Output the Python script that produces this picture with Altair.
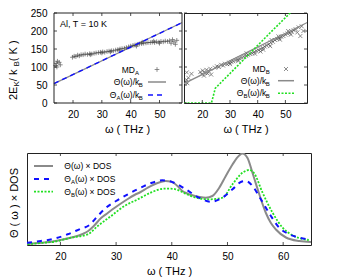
import altair as alt
import pandas as pd

FONT = "Liberation Sans"

# ---------------- data ----------------
# Theta(w)/kB straight line (top panels)
THETA_W = [13.4, 58.0]
THETA_K = [54, 224]

# MD_A points (top-left, '+')
MDA_W = [14.0, 14.2, 14.6, 15.2, 15.6, 14.4,
         19.8, 20.4, 21.0, 21.6, 22.2, 22.8,
         23.5, 24.2, 25.0, 25.8, 26.5, 27.3, 28.0,
         28.8, 29.5, 30.3, 31.0, 31.8, 32.5, 33.3, 34.0, 34.8,
         35.5, 36.3, 37.0, 37.8, 38.5, 39.3,
         40.0, 40.8, 41.5, 42.3, 43.0, 43.8, 44.5, 45.3, 46.0,
         46.8, 47.5, 48.3, 49.0, 49.8, 50.5, 51.3, 52.0, 52.8, 53.5,
         54.0, 54.5, 55.0, 55.5, 56.0,
         30.0, 36.0, 42.0, 48.0, 44.0, 50.0, 26.0, 33.0]
MDA_K = [104, 110, 116, 113, 106, 100,
         127, 130, 129, 133, 131, 134,
         134, 136, 135, 137, 136, 138, 139,
         140, 141, 142, 141, 143, 144, 145, 145, 147,
         148, 150, 151, 152, 154, 156,
         158, 160, 161, 163, 164, 165, 166, 167, 168,
         168, 169, 168, 170, 169, 171, 170, 172, 171, 173,
         166, 176, 170, 163, 174,
         139, 147, 158, 172, 169, 166, 134, 142]

# MD_B points (top-right, 'x')
MDB_W = [14.0, 14.3, 14.6, 14.4, 16.1, 15.0,
         19.3, 19.8, 20.2, 20.6, 21.0, 21.5, 21.9, 22.4, 22.9, 23.2,
         24.6, 25.3, 26.0, 26.8, 27.5, 28.2, 29.0, 29.8, 30.5,
         31.2, 32.0, 32.8, 33.5, 34.3, 35.0, 35.8, 36.5, 37.3,
         38.0, 38.8, 39.5, 40.3, 41.0, 41.8, 42.5,
         43.2, 44.0, 44.7, 45.5, 46.2, 47.0,
         47.8, 48.5, 49.3, 50.0, 50.8, 51.5, 52.3, 53.0,
         53.7, 54.3, 54.8, 55.4, 55.9, 56.5,
         30.0, 33.0, 36.0, 39.0, 42.0, 45.0, 48.0, 51.0, 52.0, 47.5, 44.5, 41.0]
MDB_K = [58, 64, 55, 85, 81, 70,
         86, 80, 90, 76, 84, 92, 82, 88, 95, 79,
         98, 102, 100, 106, 104, 109, 108, 112, 114,
         116, 119, 121, 124, 126, 129, 131, 134, 136,
         138, 142, 145, 147, 150, 153, 157,
         160, 163, 168, 170, 175, 178,
         180, 184, 186, 190, 193, 195, 198, 202,
         205, 196, 210, 186, 213, 200,
         108, 117, 138, 137, 148, 175, 176, 200, 190, 185, 158, 143]

# Theta_B(w)/kB (top-right, green)
THB_W = [13.4, 23.3, 24.7, 30.0, 35.0, 40.0, 45.0, 50.0, 52.5, 55.0]
THB_K = [0, 0, 41, 82, 121, 160, 199, 237, 256, 276]

# bottom panel: Theta x DOS (arbitrary units)
G_W = [14.0, 16.0, 18.0, 20.0, 22.0, 24.0, 25.0, 26.0, 27.3, 28.5, 29.7, 31.0, 32.1, 33.3,
       34.4, 35.6, 36.8, 38.0, 38.9, 39.8, 40.5, 41.2, 41.9, 42.8, 43.7, 45.0, 46.1, 47.3,
       48.5, 49.7, 50.9, 52.1, 52.7, 53.6, 54.5, 55.7, 56.9, 57.8, 58.7, 60.5, 62.9, 65.0]
G_V = [1, 2, 3, 5, 7.5, 11, 14, 19, 27, 32, 37, 42, 46, 50,
       53, 57, 60.5, 63, 64, 63.5, 61.5, 58, 54, 51.5, 49.7, 48, 47.3, 49,
       57, 69, 80.5, 89.5, 91.5, 87, 72, 51, 32, 22, 15.5, 7.5, 4, 3]
A_W = [14.0, 16.5, 18.9, 21.3, 23.4, 25.2, 26.7, 28.2, 30.0, 32.1, 34.2, 36.2, 38.3,
       40.4, 42.5, 44.9, 47.0, 49.1, 50.9, 52.4, 53.3, 54.5, 56.0, 57.8, 59.3, 61.1, 62.9, 64.6]
A_V = [2.3, 4, 6.3, 10.7, 15.7, 20, 29, 37.3, 44, 50.7, 56.7, 61.7, 64.7,
       62.3, 55.7, 47.3, 43.3, 47.3, 55.7, 63, 64, 59, 45.7, 29, 17.3, 10.7, 7.3, 5.7]
B_W = [14.1, 16.5, 18.9, 21.9, 24.9, 26.7, 29.1, 31.5, 33.9, 36.2, 38.6, 39.8,
       40.7, 42.5, 44.3, 46.7, 49.1, 50.9, 52.7, 53.9, 54.8, 56.3, 58.1, 59.9, 61.7, 64.6]
B_V = [0.7, 2, 3.3, 7.3, 10.7, 19, 29, 39, 45.7, 52.3, 56.3, 56.3,
       55.7, 51.3, 47.3, 45.7, 47.3, 60.7, 72.3, 75, 71.7, 52.3, 32.3, 17.3, 9.7, 5]

TOP_TICKS_X = [20, 30, 40, 50]
TOP_TICKS_Y = [0, 50, 100, 150, 200, 250]
BOT_TICKS_X = [20, 30, 40, 50, 60]

# ---------------- helpers ----------------
GRAY = "#8a8a8a"
BLUE = "#1010ff"
GREEN = "#22e022"
PTC = "#333333"
FRAME = "#222222"

WID = {"Θ": .778, "(": .333, ")": .333, "ω": .708, "/": .278, "k": .5, " ": .278,
       "×": .584, "D": .722, "O": .778, "S": .667, "M": .833, "A": .667, "B": .667,
       "E": .667, "K": .667, "2": .556}


def tw(s, size):
    return sum(WID.get(c, .6) for c in s) * size


ONE = pd.DataFrame({"a": [1]})


def txt(text, x, y, size, align="left", angle=0):
    kw = dict(text=text, fontSize=size, align=align, baseline="middle", font=FONT, color="black")
    if angle:
        kw["angle"] = angle
    return alt.Chart(ONE).mark_text(**kw).encode(x=alt.value(x), y=alt.value(y))


def rich(pieces, x, y, size=8.5, sub=6.0):
    out = []
    for t, s in pieces:
        fs = sub if s else size
        out.append(txt(t, x, y + (3 if s else 0), fs))
        x += tw(t, fs)
    return out


def rich_right(pieces, xend, y, size=8.5, sub=6.0):
    total = sum(tw(t, sub if s else size) for t, s in pieces)
    return rich(pieces, xend - total, y, size, sub)


def rule(x1, x2, y, color, width, dash=None):
    kw = dict(color=color, strokeWidth=width)
    if dash:
        kw["strokeDash"] = dash
    return alt.Chart(ONE).mark_rule(**kw).encode(x=alt.value(x1), x2=alt.value(x2), y=alt.value(y))


def sym(shape, x, y, size):
    return alt.Chart(ONE).mark_point(shape=shape, size=size, color=PTC, strokeWidth=0.8, filled=False).encode(
        x=alt.value(x), y=alt.value(y))


def inner_ticks(X, Y, xvals, yvals, x0, x1, h, L=3):
    """gnuplot-style ticks drawn inside the frame, placed through the chart's scales"""
    out = []
    xdf = pd.DataFrame({X.shorthand.split(":")[0]: xvals})
    for y1, y2 in [(h, h - L), (0, L)]:
        out.append(alt.Chart(xdf).mark_rule(color=FRAME, strokeWidth=0.8).encode(
            x=X, y=alt.value(y1), y2=alt.value(y2)))
    if yvals:
        ydf = pd.DataFrame({Y.shorthand.split(":")[0]: yvals})
        for xa, xb in [(x0, x0 + L), (x1, x1 - L)]:
            out.append(alt.Chart(ydf).mark_rule(color=FRAME, strokeWidth=0.8).encode(
                y=Y, x=alt.value(xa), x2=alt.value(xb)))
    return out


PLUS = "M-1,0L1,0M0,-1L0,1"
CROSS = "M-1,-1L1,1M-1,1L1,-1"

TOPDOM = [13.4, 57.8]


def lab_axis(**extra):
    d = dict(ticks=False, domain=False, grid=False, labelFontSize=10, labelFont=FONT,
             labelColor="black", titleFontSize=11, titleFont=FONT, titleFontWeight="normal",
             titleColor="black")
    d.update(extra)
    return alt.Axis(**d)


# top-left view is widened to the left so that it lines up with the bottom panel;
# its data frame occupies x in [OFF, TLW]
OFF = 27
TLW, TLH = 155, 90

X_TL = alt.X("w:Q", scale=alt.Scale(domain=TOPDOM, nice=False, zero=False, range=[OFF, TLW]),
             axis=lab_axis(values=TOP_TICKS_X, title="ω ( THz )", titlePadding=4, labelPadding=6, titleX=100))
Y_TL = alt.Y("k:Q", scale=alt.Scale(domain=[0, 250], nice=False),
             axis=lab_axis(values=TOP_TICKS_Y, title=None, labelPadding=7, offset=-OFF))
X_TR = alt.X("w:Q", scale=alt.Scale(domain=TOPDOM, nice=False, zero=False),
             axis=lab_axis(values=TOP_TICKS_X, title="ω ( THz )", titlePadding=4, labelPadding=6))
Y_TR = alt.Y("k:Q", scale=alt.Scale(domain=[0, 250], nice=False), axis=None)

line_df = pd.DataFrame({"w": THETA_W, "k": THETA_K})
mda_df = pd.DataFrame({"w": MDA_W, "k": MDA_K})
mdb_df = pd.DataFrame({"w": MDB_W, "k": MDB_K})
thb_df = pd.DataFrame({"w": THB_W, "k": THB_K})

# ---------------- top-left ----------------
tl_line = alt.Chart(line_df).mark_line(color=GRAY, strokeWidth=1.3, clip=True).encode(x=X_TL, y=Y_TL)
tl_blue = alt.Chart(line_df).mark_line(color=BLUE, strokeWidth=1.4, strokeDash=[5, 4], clip=True).encode(x=X_TL, y=Y_TL)
tl_pts = alt.Chart(mda_df).mark_point(shape=PLUS, size=22, color=PTC, strokeWidth=0.8, filled=False,
                                      clip=True).encode(x=X_TL, y=Y_TL)
tl_frame = alt.Chart(ONE).mark_rect(fillOpacity=0, stroke=FRAME, strokeWidth=1).encode(
    x=alt.value(OFF), x2=alt.value(TLW), y=alt.value(0), y2=alt.value(TLH))

tl_layers = [tl_line, tl_pts, tl_blue, tl_frame]
tl_layers += inner_ticks(X_TL, Y_TL, TOP_TICKS_X, TOP_TICKS_Y, OFF, TLW, TLH)
tl_layers.append(txt("Al, T = 10 K", OFF + 6, 11, 9))
tl_layers += rich_right([("MD", False), ("A", True)], OFF + 85, 56.5)
tl_layers.append(sym(PLUS, OFF + 103, 56.5, 22))
tl_layers += rich_right([("Θ(ω)/k", False), ("B", True)], OFF + 88.7, 69)
tl_layers.append(rule(OFF + 94, OFF + 112, 69, GRAY, 1.5))
tl_layers += rich_right([("Θ", False), ("A", True), ("(ω)/k", False), ("B", True)], OFF + 88.7, 82)
tl_layers.append(rule(OFF + 94, OFF + 112, 82, BLUE, 1.5, [5, 4]))
yy = 87
for t, s in [("2E", False), ("K", True), (" / k", False), ("B", True), (" ( K )", False)]:
    fs = 8 if s else 11
    tl_layers.append(txt(t, -13 + (3 if s else 0), yy, fs, angle=270))
    yy -= tw(t, fs)

top_left = alt.layer(*tl_layers).properties(width=TLW, height=TLH,
                                             view=alt.ViewBackground(strokeOpacity=0))

# ---------------- top-right ----------------
TRW, TRH = 123, 90
tr_line = alt.Chart(line_df).mark_line(color=GRAY, strokeWidth=1.3, clip=True).encode(x=X_TR, y=Y_TR)
tr_pts = alt.Chart(mdb_df).mark_point(shape=CROSS, size=16, color=PTC, strokeWidth=0.8, filled=False,
                                      clip=True).encode(x=X_TR, y=Y_TR)
tr_green = alt.Chart(thb_df).mark_line(color=GREEN, strokeWidth=1.6, strokeDash=[2, 1.5], clip=True).encode(
    x=X_TR, y=Y_TR)
tr_layers = [tr_pts, tr_line, tr_green]
tr_layers += inner_ticks(X_TR, Y_TR, TOP_TICKS_X, TOP_TICKS_Y, 0, TRW, TRH)
tr_layers += rich_right([("MD", False), ("B", True)], 85.7, 56)
tr_layers.append(sym(CROSS, 102, 56, 16))
tr_layers += rich_right([("Θ(ω)/k", False), ("B", True)], 85.7, 67.7)
tr_layers.append(rule(94, 110, 67.7, GRAY, 1.5))
tr_layers += rich_right([("Θ", False), ("B", True), ("(ω)/k", False), ("B", True)], 85.7, 80.3)
tr_layers.append(rule(94, 110, 80.3, GREEN, 1.6, [2, 1.5]))

top_right = alt.layer(*tr_layers).properties(width=TRW, height=TRH)

# ---------------- bottom ----------------
BW, BH = 284, 92
X_B = alt.X("w:Q", scale=alt.Scale(domain=[14, 65], nice=False, zero=False),
            axis=lab_axis(values=BOT_TICKS_X, title="ω ( THz )", titlePadding=4, labelPadding=6))
Y_B = alt.Y("v:Q", scale=alt.Scale(domain=[0, 92], nice=False), axis=None)
g_df = pd.DataFrame({"w": G_W, "v": G_V})
a_df = pd.DataFrame({"w": A_W, "v": A_V})
b_df = pd.DataFrame({"w": B_W, "v": B_V})

b_gray = alt.Chart(g_df).mark_line(color=GRAY, strokeWidth=2, interpolate="monotone", clip=True).encode(x=X_B, y=Y_B)
b_green = alt.Chart(b_df).mark_line(color=GREEN, strokeWidth=1.8, strokeDash=[2, 1.5], interpolate="monotone",
                                    clip=True).encode(x=X_B, y=Y_B)
b_blue = alt.Chart(a_df).mark_line(color=BLUE, strokeWidth=2, strokeDash=[5, 5], interpolate="monotone",
                                   clip=True).encode(x=X_B, y=Y_B)
b_layers = [b_gray, b_green, b_blue]
b_layers += inner_ticks(X_B, Y_B, BOT_TICKS_X, None, 0, BW, BH)
b_layers.append(rule(7, 26, 13, GRAY, 2))
b_layers += rich([("Θ(ω)  × DOS", False)], 37.3, 13)
b_layers.append(rule(7, 26, 26, BLUE, 2, [5, 5]))
b_layers += rich([("Θ", False), ("A", True), ("(ω) × DOS", False)], 37.3, 26)
b_layers.append(rule(7, 26, 38.7, GREEN, 1.8, [2, 1.5]))
b_layers += rich([("Θ", False), ("B", True), ("(ω) × DOS", False)], 37.3, 38.7)
b_layers.append(txt("Θ ( ω ) × DOS", -12, 50, 11, align="center", angle=270))

bottom = alt.layer(*b_layers).properties(width=BW, height=BH)

chart = alt.vconcat(
    alt.hconcat(top_left, top_right, spacing=0),
    bottom,
    spacing=17,
).properties(padding=0).configure_view(stroke=FRAME, strokeWidth=1)

chart.save("out.html", embed_options={"renderer": "svg", "actions": False})
